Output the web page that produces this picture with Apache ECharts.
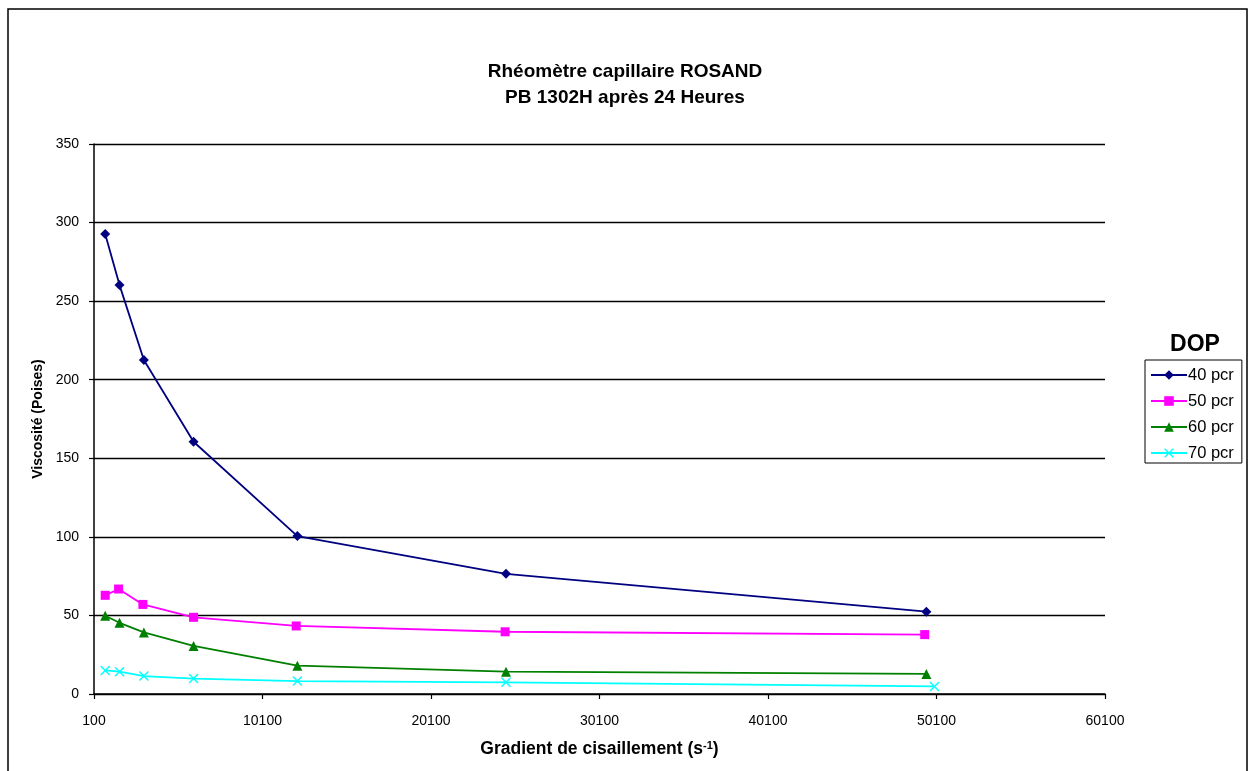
<!DOCTYPE html>
<html><head><meta charset="utf-8">
<script src="https://cdn.jsdelivr.net/npm/echarts@6/dist/echarts.min.js"></script>
<style>html,body{margin:0;padding:0;background:#fff}#c{width:1249px;height:771px}</style>
</head><body><div id="c"></div>
<script>
const titleLines = ['Rhéomètre capillaire ROSAND', 'PB 1302H après 24 Heures'];
const seriesNames = ['40 pcr', '50 pcr', '60 pcr', '70 pcr'];
const xTicks = [100, 10100, 20100, 30100, 40100, 50100, 60100];
const yTicks = [0, 50, 100, 150, 200, 250, 300, 350];

const x40 = [765, 1615, 3060, 6010, 12170, 24550, 49500];
const y40 = [292.7, 260.2, 212.5, 160.5, 100.5, 76.5, 52.4];
const x50 = [765, 1560, 3000, 6010, 12100, 24500, 49400];
const y50 = [62.8, 66.8, 57.0, 48.8, 43.3, 39.6, 37.8];
const x60 = [765, 1615, 3060, 6010, 12170, 24550, 49500];
const y60 = [49.8, 45.3, 39.2, 30.6, 18.0, 14.2, 12.8];
const x70 = [765, 1615, 3060, 6010, 12170, 24550, 49980];
const y70 = [15.0, 14.2, 11.4, 9.8, 8.2, 7.4, 4.8];

const colors = ['#000080', '#FF00FF', '#008000', '#00FFFF'];
const symbols = ['diamond', 'rect', 'triangle',
  'path://M0,1L1,0L5,4L9,0L10,1L6,5L10,9L9,10L5,6L1,10L0,9L4,5Z'];
const symbolSizes = [10, 9, 10, 10];

function pairs(xs, ys) { return xs.map((x, i) => [x, ys[i]]); }
const dataSets = [pairs(x40, y40), pairs(x50, y50), pairs(x60, y60), pairs(x70, y70)];

const font = 'Liberation Sans, Arial, sans-serif';
const chart = echarts.init(document.getElementById('c'), null, {renderer: 'canvas'});
chart.setOption({
  animation: false,
  backgroundColor: '#fff',
  textStyle: {fontFamily: font},
  graphic: [{
    type: 'rect', shape: {x: 8, y: 9, width: 1239, height: 800},
    style: {fill: 'none', stroke: '#000', lineWidth: 1.5}, z: -1
  }],
  title: [{
    text: titleLines.join('\n'), left: 620, top: 54, textAlign: 'center',
    textStyle: {fontFamily: font, fontSize: 19, fontWeight: 'bold', color: '#000', lineHeight: 26}
  }, {
    text: 'DOP', left: 1190, top: 328, textAlign: 'center',
    textStyle: {fontFamily: font, fontSize: 23, fontWeight: 'bold', color: '#000'}
  }],
  legend: {
    orient: 'vertical', left: 1145, top: 360,
    borderColor: '#000', borderWidth: 1, padding: [6, 8, 1, 5],
    itemWidth: 36, itemHeight: 12, itemGap: 8,
    textStyle: {fontFamily: font, fontSize: 16.5, lineHeight: 18, color: '#000', padding: [0, 0, 0, -4]},
    data: seriesNames
  },
  grid: {left: 94, right: 144, top: 144, bottom: 77, containLabel: false},
  xAxis: {
    type: 'value', min: xTicks[0], max: xTicks[xTicks.length - 1], interval: 10000,
    name: '{b|Gradient de cisaillement (s}{s|-1}{b|)}', nameLocation: 'middle', nameGap: 46,
    nameTextStyle: {rich: {
      b: {fontFamily: font, fontSize: 17.5, fontWeight: 'bold', color: '#000'},
      s: {fontFamily: font, fontSize: 11, fontWeight: 'bold', color: '#000', verticalAlign: 'top', padding: [0, 0, 8, 0]}
    }},
    axisLine: {lineStyle: {color: '#000', width: 1.5}},
    axisTick: {show: true, length: 5, inside: false, lineStyle: {color: '#000', width: 1.2}},
    axisLabel: {fontFamily: font, fontSize: 14, color: '#000', margin: 20, formatter: v => String(v)},
    splitLine: {show: false}
  },
  yAxis: {
    type: 'value', min: yTicks[0], max: yTicks[yTicks.length - 1], interval: 50,
    name: 'Viscosité (Poises)', nameLocation: 'middle', nameGap: 47,
    nameTextStyle: {fontFamily: font, fontSize: 14, fontWeight: 'bold', color: '#000'},
    axisLine: {show: true, lineStyle: {color: '#000', width: 1.5}},
    axisTick: {show: true, length: 5, lineStyle: {color: '#000', width: 1.2}},
    axisLabel: {fontFamily: font, fontSize: 14, color: '#000', margin: 15, formatter: v => String(v)},
    splitLine: {show: true, lineStyle: {color: '#000', width: 1.3}}
  },
  series: seriesNames.map((n, i) => ({
    name: n, type: 'line', data: dataSets[i],
    symbol: symbols[i], symbolSize: symbolSizes[i], showSymbol: true,
    lineStyle: {color: colors[i], width: 1.8},
    itemStyle: {color: colors[i]},
    color: colors[i]
  }))
});
</script></body></html>
